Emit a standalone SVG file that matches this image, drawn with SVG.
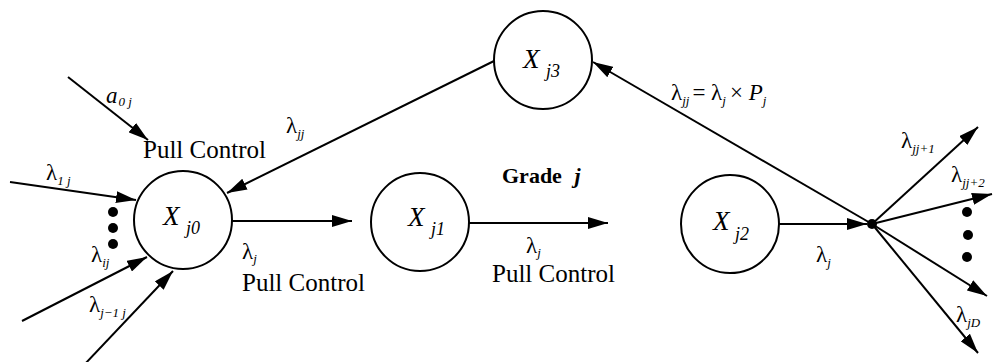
<svg xmlns="http://www.w3.org/2000/svg" width="999" height="362" viewBox="0 0 999 362">
  <defs>
    <style>
      .node { fill: #ffffff; stroke: #000000; stroke-width: 2; }
      .edge { fill: none; stroke: #000000; stroke-width: 2; }
      .dot { fill: #000000; }
      text { font-family: "Liberation Serif", "Times New Roman", serif; fill: #000000; }
      .nx { font-size: 27px; font-style: italic; }
      .ns { font-size: 18px; font-style: italic; }
      .lam { font-size: 23px; }
      .sub { font-size: 13px; font-style: italic; }
      .ctl { font-size: 25px; }
      .grade { font-size: 22px; font-weight: bold; }
    </style>
    <marker id="arrow" markerUnits="userSpaceOnUse" markerWidth="20" markerHeight="12" refX="20" refY="6" orient="auto">
      <path d="M0,0 L20,6 L0,12 Z" fill="#000000"/>
    </marker>
  </defs>

  <!-- connectors -->
  <g id="connectors">
    <line class="edge" x1="68" y1="77" x2="148" y2="140" marker-end="url(#arrow)"/>
    <line class="edge" x1="10" y1="182" x2="136" y2="200" marker-end="url(#arrow)"/>
    <line class="edge" x1="22" y1="321" x2="147" y2="257" marker-end="url(#arrow)"/>
    <line class="edge" x1="84" y1="365" x2="173" y2="271" marker-end="url(#arrow)"/>
    <line class="edge" x1="494" y1="61" x2="227" y2="193" marker-end="url(#arrow)"/>
    <line class="edge" x1="232" y1="221" x2="352" y2="221" marker-end="url(#arrow)"/>
    <line class="edge" x1="469" y1="223" x2="608" y2="223" marker-end="url(#arrow)"/>
    <line class="edge" x1="779" y1="224" x2="867" y2="224" marker-end="url(#arrow)"/>
    <line class="edge" x1="872" y1="224" x2="593" y2="62" marker-end="url(#arrow)"/>
    <line class="edge" x1="872" y1="224" x2="978" y2="127" marker-end="url(#arrow)"/>
    <line class="edge" x1="872" y1="224" x2="992" y2="194" marker-end="url(#arrow)"/>
    <line class="edge" x1="872" y1="224" x2="987" y2="296" marker-end="url(#arrow)"/>
    <line class="edge" x1="872" y1="224" x2="978" y2="353" marker-end="url(#arrow)"/>
    <circle class="dot" cx="872" cy="224" r="5"/>
  </g>

  <!-- nodes -->
  <g id="Xj0">
    <circle class="node" cx="183" cy="220" r="49"/>
    <text class="nx" x="163" y="225">X</text>
    <text class="ns" x="186" y="234">j0</text>
  </g>
  <g id="Xj1">
    <circle class="node" cx="420" cy="222" r="49"/>
    <text class="nx" x="408" y="226">X</text>
    <text class="ns" x="431" y="235">j1</text>
  </g>
  <g id="Xj2">
    <circle class="node" cx="730" cy="224" r="49"/>
    <text class="nx" x="713" y="230">X</text>
    <text class="ns" x="735" y="240">j2</text>
  </g>
  <g id="Xj3">
    <circle class="node" cx="543" cy="60" r="49"/>
    <text class="nx" x="523" y="68">X</text>
    <text class="ns" x="546" y="77">j3</text>
  </g>

  <!-- ellipsis dots -->
  <g id="dots">
    <circle class="dot" cx="113" cy="212" r="5"/>
    <circle class="dot" cx="113" cy="228" r="5"/>
    <circle class="dot" cx="113" cy="244" r="5"/>
    <circle class="dot" cx="967" cy="212" r="5"/>
    <circle class="dot" cx="968" cy="235" r="5"/>
    <circle class="dot" cx="967" cy="257" r="5"/>
  </g>

  <!-- labels -->
  <g id="labels">
    <text x="106" y="103"><tspan style="font-size:23px;font-style:italic">a</tspan><tspan class="sub" dx="1" dy="3">0 j</tspan></text>
    <text class="ctl" x="143" y="158">Pull Control</text>
    <text x="46" y="180"><tspan class="lam">λ</tspan><tspan class="sub" dy="5">1 j</tspan></text>
    <text x="91" y="262"><tspan class="lam">λ</tspan><tspan class="sub" dy="5">ij</tspan></text>
    <text x="89" y="312"><tspan class="lam">λ</tspan><tspan class="sub" dy="5">j−1 j</tspan></text>
    <text x="286" y="133"><tspan class="lam">λ</tspan><tspan class="sub" dy="5">jj</tspan></text>
    <text x="242" y="259"><tspan class="lam">λ</tspan><tspan class="sub" dy="4">j</tspan></text>
    <text class="ctl" x="242" y="291">Pull Control</text>
    <text class="grade" x="502" y="183">Grade <tspan font-style="italic" dx="7">j</tspan></text>
    <text x="526" y="253"><tspan class="lam">λ</tspan><tspan class="sub" dy="4">j</tspan></text>
    <text class="ctl" x="492" y="282">Pull Control</text>
    <text x="816" y="262"><tspan class="lam">λ</tspan><tspan class="sub" dy="5">j</tspan></text>
    <text x="671" y="100"><tspan class="lam">λ</tspan><tspan class="sub" dy="5">jj</tspan><tspan class="lam" dx="3" dy="-5">= λ</tspan><tspan class="sub" dy="5">j</tspan><tspan class="lam" dx="4" dy="-5">× </tspan><tspan class="lam" font-style="italic">P</tspan><tspan class="sub" dy="5">j</tspan></text>
    <text x="901" y="148"><tspan class="lam">λ</tspan><tspan class="sub" dy="5">jj+1</tspan></text>
    <text x="951" y="182"><tspan class="lam">λ</tspan><tspan class="sub" dy="5">jj+2</tspan></text>
    <text x="956" y="322"><tspan class="lam">λ</tspan><tspan class="sub" dy="5">jD</tspan></text>
  </g>
</svg>
